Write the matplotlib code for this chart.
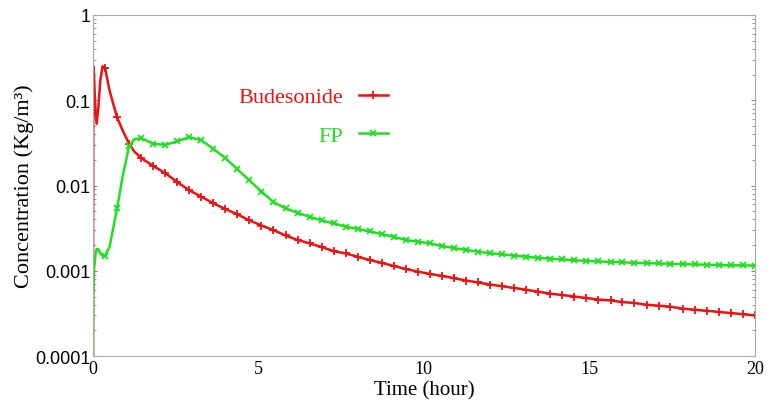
import numpy as np
import matplotlib
matplotlib.use("Agg")
import matplotlib.pyplot as plt
from matplotlib.lines import Line2D
from matplotlib.ticker import LogLocator, FixedLocator, NullFormatter

# time points (hour); dense at the start, then every 20/55 h
time = [0, 0.01, 0.03, 0.07, 0.11, 0.16, 0.22, 0.29, 0.364, 0.5, 0.727, 0.9,
        1.091, 1.25, 1.455, 1.818, 2.182, 2.545, 2.909, 3.273, 3.636, 4.0,
        4.364, 4.727, 5.091, 5.455, 5.818, 6.182, 6.545, 6.909, 7.273, 7.636,
        8.0, 8.364, 8.727, 9.091, 9.455, 9.818, 10.18, 10.55, 10.91, 11.27,
        11.64, 12.0, 12.36, 12.73, 13.09, 13.45, 13.82, 14.18, 14.55, 14.91,
        15.27, 15.64, 16.0, 16.36, 16.73, 17.09, 17.45, 17.82, 18.18, 18.55,
        18.91, 19.27, 19.64, 20.0]

budesonide = [0.0001, 0.25, 0.2, 0.08, 0.053, 0.08, 0.17, 0.25, 0.24, 0.13,
              0.063, 0.044, 0.031, 0.025, 0.021, 0.017, 0.014, 0.011, 0.0088,
              0.0074, 0.0062, 0.0053, 0.0046, 0.0039, 0.0034, 0.0030, 0.0026,
              0.0023, 0.0021, 0.0019, 0.0017, 0.0016, 0.00146, 0.00134,
              0.00124, 0.00114, 0.00105, 0.00098, 0.00092, 0.00087, 0.00082,
              0.00077, 0.00073, 0.00069, 0.00066, 0.00063, 0.00060, 0.00057,
              0.00054, 0.00052, 0.00050, 0.00048, 0.00046, 0.00045, 0.00043,
              0.00042, 0.00040, 0.00039, 0.00038, 0.00036, 0.00035, 0.00034,
              0.00033, 0.00032, 0.00031, 0.00030]

fp = [0.0001, 0.0005, 0.001, 0.0015, 0.0018, 0.0018, 0.0016, 0.0015, 0.0015,
      0.0019, 0.0054, 0.013, 0.029, 0.035, 0.036, 0.031, 0.030, 0.033, 0.037,
      0.034, 0.027, 0.021, 0.0155, 0.0115, 0.0085, 0.0064, 0.0054, 0.0048,
      0.0043, 0.0039, 0.0036, 0.0033, 0.0031, 0.0029, 0.0027, 0.0025, 0.0023,
      0.0022, 0.0021, 0.00195, 0.00185, 0.00176, 0.00168, 0.00161, 0.00156,
      0.00151, 0.00146, 0.00142, 0.00139, 0.00136, 0.00133, 0.00131, 0.00129,
      0.00127, 0.00126, 0.00124, 0.00123, 0.00122, 0.00121, 0.00120, 0.00119,
      0.00118, 0.00117, 0.00116, 0.00116, 0.00115]

# markers only on the regular grid
extra = {0.01, 0.03, 0.07, 0.11, 0.16, 0.22, 0.29, 0.5, 0.9, 1.25}
marks = [i for i, t in enumerate(time) if t not in extra and t > 0]

red = '#f01010'
green = '#1ee01e'

fig = plt.figure(figsize=(7.71, 4.10), dpi=100)
ax = fig.add_axes([0.1206, 0.129, 0.8584, 0.832])

ax.plot(time, budesonide, color=red, lw=1.8, marker='+', ms=6,
        mew=1.3, markevery=marks)
ax.plot(time, fp, color=green, lw=1.8, marker='x', ms=4.5,
        mew=1.3, markevery=marks)

ax.set_yscale('log')
ax.set_ylim(0.0001, 1)
ax.set_xlim(0, 20)

ax.yaxis.set_major_locator(FixedLocator([0.0001, 0.001, 0.01, 0.1, 1]))
ax.set_yticklabels(['0.0001', '0.001', '0.01', '0.1', '1'],
                   family='Liberation Sans', fontsize=13)
ax.yaxis.set_minor_locator(LogLocator(base=10, subs=np.arange(2, 10)))
ax.yaxis.set_minor_formatter(NullFormatter())
ax.tick_params(axis='y', which='both', direction='in', right=True,
               length=3, color='#888888', pad=2)
ax.tick_params(axis='y', which='minor', length=2)

ax.set_xticks([0, 5, 10, 15, 20])
ax.set_xticklabels(['0', '5', '10', '15', '20'], family='Liberation Serif',
                   fontsize=13)
ax.tick_params(axis='x', length=0, pad=3)

for s in ax.spines.values():
    s.set_color('#aaaaaa')
    s.set_linewidth(0.8)

ax.set_xlabel('Time (hour)', family='Liberation Serif', fontsize=15, labelpad=2)
ax.set_ylabel('Concentration (Kg/m³)', family='Liberation Serif', fontsize=16)
ax.yaxis.set_label_coords(-0.089, 0.5)

handles = [Line2D([], [], color=red, lw=1.8, marker='+', ms=6, mew=1.3),
           Line2D([], [], color=green, lw=1.8, marker='x', ms=4.5, mew=1.3)]
leg = ax.legend(handles, ['Budesonide', 'FP'], loc='upper left',
                bbox_to_anchor=(0.19, 0.848), frameon=False, markerfirst=False,
                labelcolor=[red, green], handlelength=1.3, handletextpad=0.7,
                labelspacing=0.8, numpoints=1,
                prop={'family': 'Liberation Serif', 'size': 16})
for t in leg.get_texts():
    t.set_ha('right')

fig.savefig('out.png', dpi=100)
